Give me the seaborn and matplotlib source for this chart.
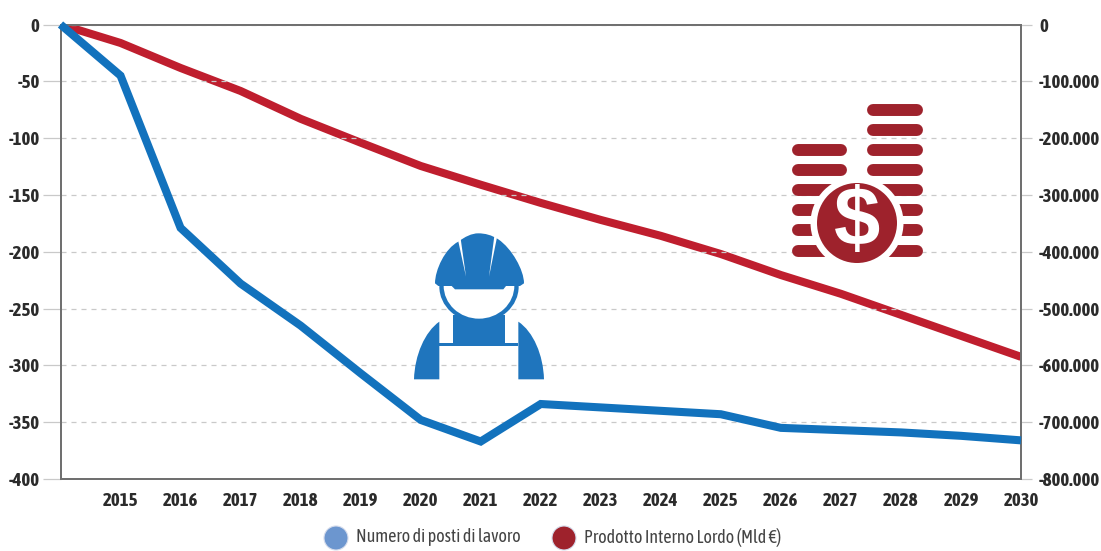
#!/usr/bin/env python3
# -*- coding: utf-8 -*-
import pandas as pd
import seaborn as sns
import matplotlib.pyplot as plt
from matplotlib.patches import Circle, Ellipse, PathPatch, Polygon
from matplotlib.path import Path
from matplotlib.ticker import FuncFormatter

years = list(range(2014, 2031))
posti_lavoro = [0, -45, -179, -228, -265, -307, -348, -367, -334, -337, -340, -343, -355, -357, -359, -362, -366]
pil_mld = [0, -32500, -76500, -117000, -166000, -208000, -249000, -282000, -314000, -344000,
           -372000, -404000, -441000, -474000, -511000, -548000, -585000]
left_ticks = [0, -50, -100, -150, -200, -250, -300, -350, -400]
right_ticks = [0, -100000, -200000, -300000, -400000, -500000, -600000, -700000, -800000]
year_ticks = list(range(2015, 2031))
legend_labels = ["Numero di posti di lavoro", "Prodotto Interno Lordo (Mld €)"]

BLUE = "#1272bd"
RED = "#bf1e2e"
ICON_BLUE = "#1f75bd"
ICON_RED = "#9e222c"
GRID = "#c9c9c9"
SPINE = "#707070"
TEXT = "#2b2b2b"

sns.set_theme(style="white")
plt.rcParams["font.family"] = ["Asap Condensed", "Liberation Sans", "DejaVu Sans"]
plt.rcParams["axes.unicode_minus"] = False

W, H = 1101, 551
fig = plt.figure(figsize=(W / 100, H / 100), dpi=100)
ax = fig.add_axes([60.5 / W, 1 - 479 / H, (1021 - 60.5) / W, (479 - 24.5) / H])
ax2 = ax.twinx()

df = pd.DataFrame({"year": years, "posti": posti_lavoro, "pil": pil_mld})


def dotted(v, _pos=None):
    return f"{int(v):,}".replace(",", ".")


sns.lineplot(data=df, x="year", y="posti", ax=ax, color=BLUE, lw=5.8, legend=False, zorder=4)
sns.lineplot(data=df, x="year", y="pil", ax=ax2, color=RED, lw=5.8, legend=False, zorder=3)
ax.set_xlabel("")
ax.set_ylabel("")
ax2.set_ylabel("")
ax.set_xlim(2014, 2030)
ax.set_ylim(-400, 0)
ax2.set_ylim(-800000, 0)
ax.set_xticks(year_ticks)
ax.set_yticks(left_ticks)
ax2.set_yticks(right_ticks)
ax2.yaxis.set_major_formatter(FuncFormatter(dotted))

# gridlines + ticks extend a bit outside the frame
ax.grid(axis="y", color=GRID, ls=(0, (4, 4)), lw=0.9)
ax.tick_params(axis="x", length=0, pad=9, labelsize=13.5, labelcolor=TEXT)
ax.tick_params(axis="y", length=13, width=0.9, color=GRID, pad=2, labelsize=13.5, labelcolor=TEXT)
ax2.tick_params(axis="y", length=8, width=0.9, color=GRID, pad=5, labelsize=13.5, labelcolor=TEXT)
for lab in ax.get_xticklabels() + ax.get_yticklabels() + ax2.get_yticklabels():
    lab.set_fontweight("bold")
for a in (ax, ax2):
    for s in a.spines.values():
        s.set_color(SPINE)
        s.set_linewidth(1.4)
for ln in ax.get_lines() + ax2.get_lines():
    ln.set_solid_joinstyle("miter")
    ln.set_solid_capstyle("butt")
ax.get_lines()[0].set_clip_on(False)
ax.set_zorder(ax2.get_zorder() + 1)
ax.patch.set_visible(False)

# icons, in pixel coordinates of the picture
ic = fig.add_axes([0, 0, 1, 1], zorder=10)
ic.set_xlim(0, W)
ic.set_ylim(H, 0)
ic.axis("off")


def wz(x, y):
    # zoomed crop coords -> picture coords
    return 400 + x / 3, 220 + y / 3


def shape(pts, fc=ICON_BLUE):
    ic.add_patch(Polygon([wz(*p) for p in pts], fc=fc, ec="none"))


def curved(start, segments, fc=ICON_BLUE):
    # segments: straight (x, y) or cubic ((c1), (c2), (end))
    verts, codes = [wz(*start)], [Path.MOVETO]
    for seg in segments:
        if isinstance(seg[0], tuple):
            verts += [wz(*p) for p in seg]
            codes += [Path.CURVE4] * 3
        else:
            verts.append(wz(*seg))
            codes.append(Path.LINETO)
    ic.add_patch(PathPatch(Path(verts, codes), fc=fc, ec="none"))


# worker: torso, strap ring, face, helmet, shoulders
shape([(158, 285), (315, 285), (315, 368), (355, 368), (355, 378), (118, 378), (118, 368), (158, 368)])
ic.add_patch(Ellipse(wz(237, 200), 238 / 3, 214 / 3, fc=ICON_BLUE, ec="none"))
ic.add_patch(Ellipse(wz(237, 197), 212 / 3, 198 / 3, fc="white", ec="none"))
curved((105, 190), [((105, 150), (135, 85), (175, 65)), ((195, 50), (215, 40), (235, 40)),
                    ((255, 40), (275, 45), (295, 58)), ((335, 85), (372, 150), (372, 190)),
                    (360, 198), (318, 198), (310, 208), (165, 208), (155, 198), (115, 198), (105, 190)])
shape([(174, 60), (198, 170), (182, 56)], "white")
shape([(291, 52), (267, 170), (283, 48)], "white")
curved((118, 305), [(118, 478), (42, 478), ((44, 405), (75, 335), (118, 305))])
curved((355, 305), [(355, 478), (432, 478), ((430, 405), (400, 335), (355, 305))])

# coin stacks
for y in [110, 130, 150.3, 170.3, 190.3, 210.3, 230.3, 250.7]:
    ic.plot([873, 917], [y, y], color=ICON_RED, lw=8.6, solid_capstyle="round")
for y in [150.3, 170.3, 190.3, 210.3, 230.3, 250.7]:
    ic.plot([798, 841], [y, y], color=ICON_RED, lw=8.6, solid_capstyle="round")
ic.add_patch(Circle((857, 223), 46.5, fc="white", ec="none", zorder=5))
ic.add_patch(Circle((857, 223), 40, fc=ICON_RED, ec="none", zorder=6))
ic.text(857, 224, "$", color="white", fontsize=60, fontweight="bold", ha="center", va="center",
        family=["Liberation Sans", "DejaVu Sans"], zorder=7)

# legend
ic.add_patch(Circle((336, 538), 12, fc="#6c96cf", ec="#d5dcec", lw=0.8))
ic.add_patch(Circle((564, 538), 12, fc=ICON_RED, ec="#d5dcec", lw=0.8))
ic.text(356.5, 537.5, legend_labels[0], fontsize=13, color="#444444", va="center", ha="left")
ic.text(584, 537.5, legend_labels[1], fontsize=13, color="#444444", va="center", ha="left")

fig.savefig("out.png", dpi=100, facecolor="white")
